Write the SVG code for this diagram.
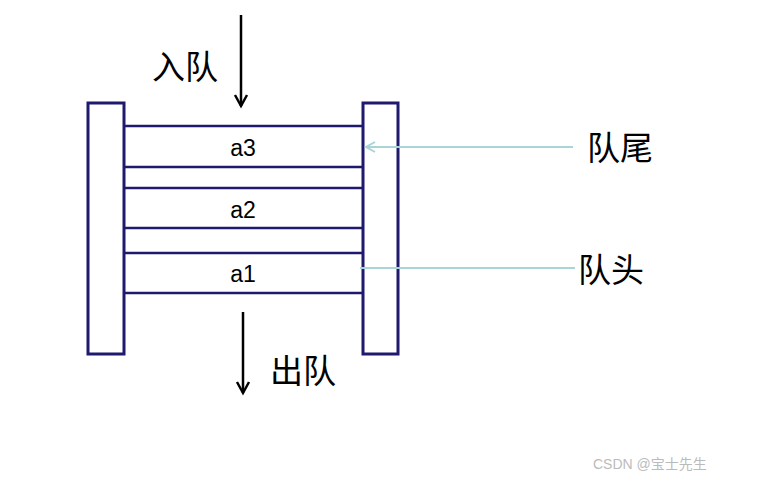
<svg xmlns="http://www.w3.org/2000/svg" width="759" height="481" viewBox="0 0 759 481">
<style>
.box{fill:#fff;stroke:#1f1a6e;stroke-width:3}
.ln{stroke:#1f1a6e;stroke-width:2.5}
.lbl{font-family:"Liberation Sans",Arial,sans-serif;font-size:23px;fill:#000;text-anchor:middle}
.cn{font-family:"Noto Sans CJK SC",sans-serif;font-size:33px;fill:#000}
.ar{stroke:#000;stroke-width:2.5;fill:none}
.bl{stroke:#a9d4d8;stroke-width:2;fill:none}
</style>
<rect width="759" height="481" fill="#fff"/>
<g id="queue">
<rect class="box" x="88" y="103" width="36" height="251"/>
<rect class="box" x="363" y="103" width="35" height="251"/>
<line class="ln" x1="124" y1="126" x2="363" y2="126"/>
<line class="ln" x1="124" y1="167" x2="363" y2="167"/>
<line class="ln" x1="124" y1="188" x2="363" y2="188"/>
<line class="ln" x1="124" y1="228" x2="363" y2="228"/>
<line class="ln" x1="124" y1="253" x2="363" y2="253"/>
<line class="ln" x1="124" y1="293" x2="363" y2="293"/>
</g>
<g id="a3"><text class="lbl" x="243" y="156">a3</text></g>
<g id="a2"><text class="lbl" x="243" y="218">a2</text></g>
<g id="a1"><text class="lbl" x="243" y="282">a1</text></g>
<g id="labels">
<text class="cn" x="152" y="79">入队</text>
<text class="cn" x="587" y="160">队尾</text>
<text class="cn" x="578" y="282">队头</text>
<text class="cn" x="270" y="383">出队</text>
</g>
<g id="connectors">
<line class="ar" x1="241" y1="15" x2="241" y2="106"/>
<polyline class="ar" points="235,95 241,106 247,95"/>
<line class="ar" x1="243" y1="312" x2="243" y2="393"/>
<polyline class="ar" points="237,382 243,393 249,382"/>
<line class="bl" x1="573" y1="147" x2="366" y2="147"/>
<polyline class="bl" points="375,142 366,147 375,152"/>
<line class="bl" x1="360" y1="268" x2="575" y2="268"/>
</g>
<text x="593" y="469" font-family="'Liberation Sans','Noto Sans CJK SC',sans-serif" font-size="14" fill="#bbb">CSDN @宝士先生</text>
</svg>
